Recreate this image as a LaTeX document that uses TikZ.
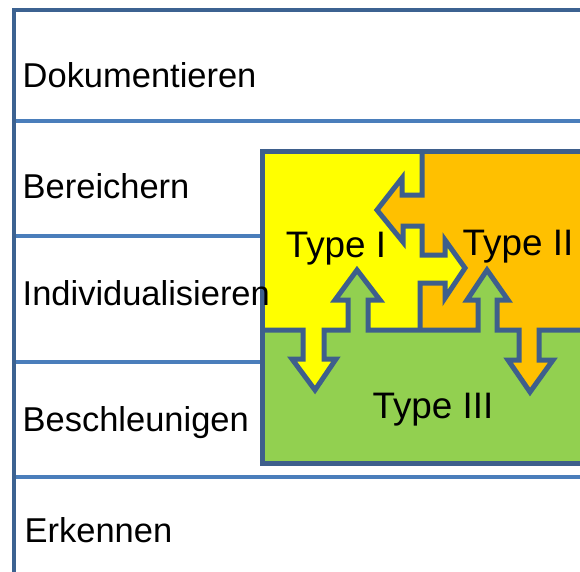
\documentclass[tikz,border=0pt]{standalone}
\usepackage{fontspec}
\setmainfont{Liberation Sans}
\definecolor{framec}{HTML}{3C6291}
\definecolor{sepc}{HTML}{4A7EBB}
\definecolor{edgec}{HTML}{3E5F8C}
\definecolor{yel}{HTML}{FFFF00}
\definecolor{ora}{HTML}{FFC000}
\definecolor{gre}{HTML}{92D050}
\begin{document}
\begin{tikzpicture}[x=1bp,y=-1bp,
  lbl/.style={anchor=base west, inner sep=0pt, font=\fontsize{34.6}{40}\selectfont},
  tlbl/.style={anchor=base, inner sep=0pt, font=\fontsize{37}{42}\selectfont},
  outl/.style={draw=edgec, line width=5bp, line join=miter},
  sepline/.style={draw=sepc, line width=3.5bp},
  frameline/.style={draw=framec, line width=4.5bp}]
\useasboundingbox (0,0) rectangle (580,572);
\clip (0,0) rectangle (580,572);
% row separators
\foreach \y in {121,236,362,477} \draw[sepline] (14,\y) -- (600,\y);
% frame
\draw[frameline] (600,10) -- (14,10) -- (14,600);
% yellow piece (Type I)
\fill[yel] (262,152) -- (422,152) -- (422,195) -- (402,195) -- (402,178) -- (377,210) -- (403,242) -- (403,226) -- (422,226) -- (422,255) -- (445,255) -- (445,240) -- (465,268) -- (445,298) -- (445,283) -- (420,283) -- (420,330)
  -- (368,330) -- (368,300) -- (380,300) -- (357,270) -- (335,300) -- (348,300) -- (348,330) -- (324,330) -- (324,359) -- (336,359) -- (315,390) -- (292,359) -- (303,359) -- (303,330) -- (262,330) -- cycle;
% orange piece (Type II)
\fill[ora] (422,152) -- (610,152) -- (610,330) -- (539,330) -- (539,360) -- (553,360) -- (530,392) -- (508,360) -- (519,360) -- (519,330) -- (497,330) -- (497,300) -- (508,300) -- (487,270) -- (467,300) -- (478,300) -- (478,330) -- (420,330)
  -- (420,283) -- (445,283) -- (445,298) -- (465,268) -- (445,240) -- (445,255) -- (422,255) -- (422,226) -- (403,226) -- (403,242) -- (377,210) -- (402,178) -- (402,195) -- (422,195) -- cycle;
% green piece (Type III)
\fill[gre] (262,330) -- (303,330) -- (303,359) -- (292,359) -- (315,390) -- (336,359) -- (324,359) -- (324,330) -- (348,330) -- (348,300) -- (335,300) -- (357,270) -- (380,300) -- (368,300) -- (368,330) -- (420,330)
  -- (478,330) -- (478,300) -- (467,300) -- (487,270) -- (508,300) -- (497,300) -- (497,330) -- (519,330) -- (519,360) -- (508,360) -- (530,392) -- (553,360) -- (539,360) -- (539,330) -- (610,330) -- (610,463) -- (262,463) -- cycle;
% outlines
\draw[outl] (262,152) rectangle (610,463);
\draw[outl] (422,152) -- (422,195) -- (402,195) -- (402,178) -- (377,210) -- (403,242) -- (403,226) -- (422,226) -- (422,255) -- (445,255) -- (445,240) -- (465,268) -- (445,298) -- (445,283) -- (420,283) -- (420,330);
\draw[outl] (262,330) -- (303,330) -- (303,359) -- (292,359) -- (315,390) -- (336,359) -- (324,359) -- (324,330) -- (348,330) -- (348,300) -- (335,300) -- (357,270) -- (380,300) -- (368,300) -- (368,330) -- (420,330)
  -- (478,330) -- (478,300) -- (467,300) -- (487,270) -- (508,300) -- (497,300) -- (497,330) -- (519,330) -- (519,360) -- (508,360) -- (530,392) -- (553,360) -- (539,360) -- (539,330) -- (610,330);
% piece labels
\node[tlbl] (t1) at (336,257) {Type I};
\node[tlbl] (t2) at (518,255) {Type II};
\node[tlbl] (t3) at (433,418) {Type III};
% row labels
\node[lbl] (r1) at (22.5,88) {Dokumentieren};
\node[lbl] (r2) at (22.5,198) {Bereichern};
\node[lbl] (r3) at (22.5,305) {Individualisieren};
\node[lbl] (r4) at (22.5,431) {Beschleunigen};
\node[lbl] (r5) at (24.5,542) {Erkennen};
\end{tikzpicture}
\end{document}
